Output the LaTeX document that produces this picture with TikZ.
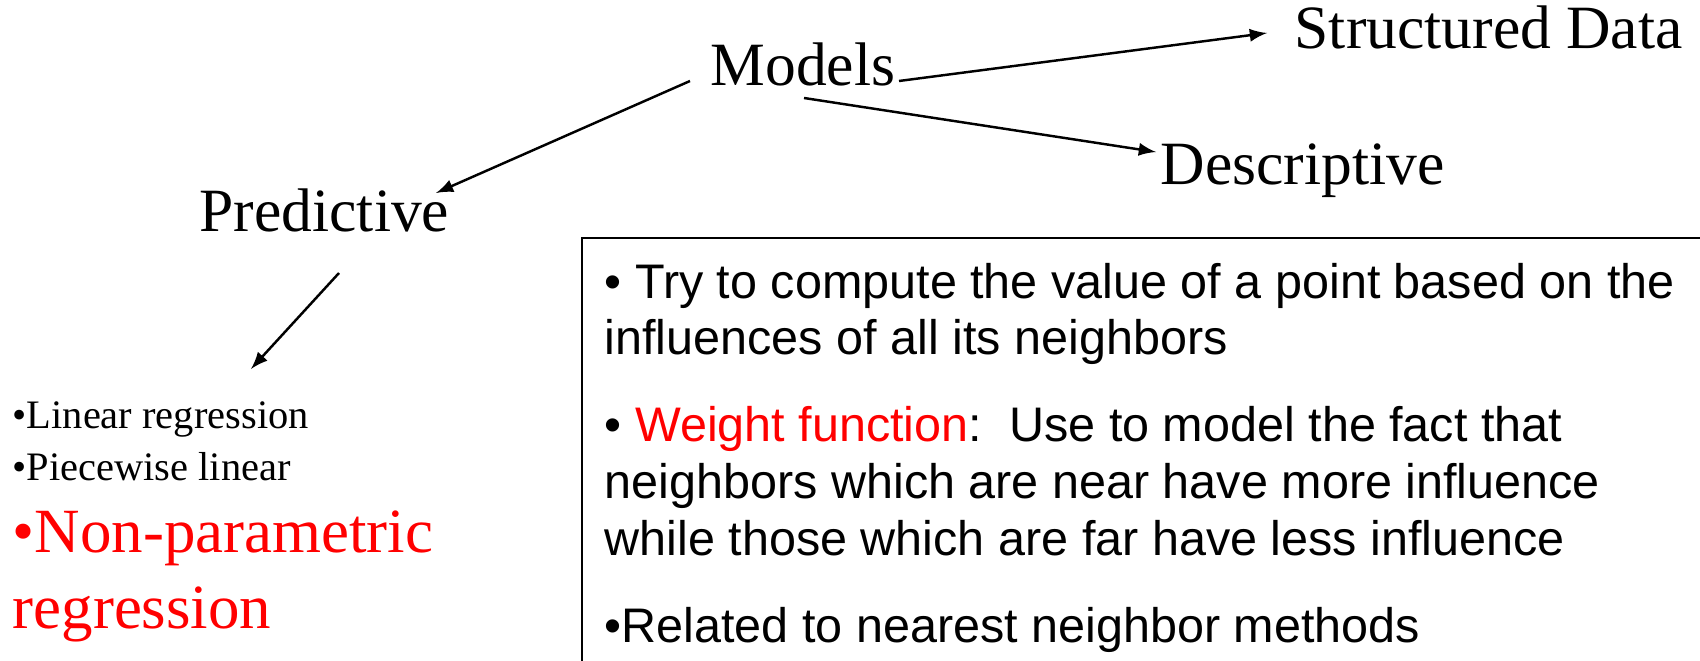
\documentclass[tikz,border=0pt]{standalone}
\usepackage{fontspec}
\setmainfont{Liberation Serif}
\newfontfamily\boxfont{Liberation Sans}
\usepackage{xcolor}

\begin{document}
\begin{tikzpicture}[x=0.01cm, y=-0.01cm,
    head/.style={inner sep=0pt, anchor=base west, font=\fontsize{17.5}{21}\selectfont},
    item/.style={inner sep=0pt, anchor=base west, font=\fontsize{11.5}{14}\selectfont},
    reditem/.style={inner sep=0pt, anchor=base west, text=red, font=\fontsize{17.9}{21.5}\selectfont},
    boxtext/.style={inner sep=0pt, anchor=base west, align=left, font=\boxfont\fontsize{13.8}{16.2}\selectfont},
    arr/.style={-latex, line width=0.7pt}]
        	% Page and frame:
        	\useasboundingbox (0,0) rectangle (1700,661);
        	\clip (0,0) rectangle (1700,661);
        	\draw[line width=0.7pt] (582,238) rectangle (1720,700);
        	% Headings:
        	\node[head] (models) at (710,86) {Models};
        	\node[head] (structured) at (1294,49) {Structured Data};
        	\node[head] (descriptive) at (1160,185) {Descriptive};
        	\node[head] (predictive) at (199,232) {Predictive};
        	% List under Predictive:
        	\node[item] (linear) at (12,429) {•Linear regression};
        	\node[item] (piecewise) at (12,480) {•Piecewise linear};
        	\node[reditem] (nonparam) at (12,552) {•Non-parametric};
        	\node[reditem] (regress) at (12,628) {regression};
        	% Text in the frame (base = last line):
        	\node[boxtext] (compute) at (604,355) {• Try to compute the value of a point based on the\\influences of all its neighbors};
        	\node[boxtext] (weight) at (604,555) {• {\color{red}Weight function}:\ \ Use to model the fact that\\neighbors which are near have more influence\\while those which are far have less influence};
        	\node[boxtext] (related) at (604,642) {•Related to nearest neighbor methods};
        	% Arrows:
        	\draw[arr] ([shift={(189,-5)}]models.base west) -- ([shift={(-27,-16)}]structured.base west);
        	\draw[arr] ([shift={(94,12)}]models.base west) -- ([shift={(-4,-33)}]descriptive.base west);
        	\draw[arr] ([shift={(-20,-5)}]models.base west) -- ([shift={(237,-39)}]predictive.base west);
        	\draw[arr] ([shift={(140,41)}]predictive.base west) -- ([shift={(239,-60)}]linear.base west);
\end{tikzpicture}
\end{document}
